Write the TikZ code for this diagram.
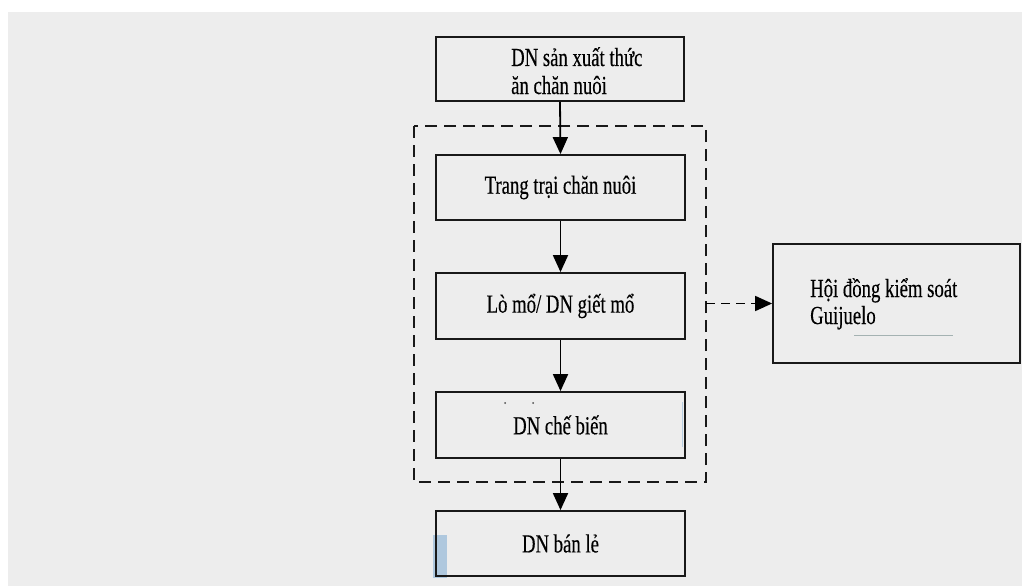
\documentclass[tikz,border=0pt]{standalone}
\usepackage{fontspec}
\setmainfont{Liberation Serif}[FakeStretch=0.72,FakeBold=0.3]
\usetikzlibrary{arrows.meta}
\definecolor{pagegray}{HTML}{EDEDED}
\definecolor{hiblue}{HTML}{A9C5DD}
\definecolor{rulegray}{HTML}{A4B2B2}
\tikzset{
  stage/.style={draw=black!90, line width=1.8pt, rectangle, inner sep=0pt,
    minimum width=249pt, font=\fontsize{26}{28}\selectfont},
  txt/.style={inner sep=0pt, font=\fontsize{26}{28}\selectfont},
  flow/.style={line width=1.8pt, -{Triangle[length=17pt,width=15pt]}},
  group/.style={draw=black!90, line width=1.8pt, dash pattern=on 12pt off 7pt},
}
\begin{document}
\begin{tikzpicture}[x=1pt,y=-1pt]
  % page
  \useasboundingbox (0,0) rectangle (1022,586);
  \fill[white] (0,0) rectangle (1022,586);
  \fill[pagegray] (8,12) rectangle (1022,586);

  % highlight mark behind the last box
  \fill[hiblue, opacity=0.9] (433,535) rectangle (447,578);

  % supplier box with left-set two-line caption
  \node[stage, minimum width=248pt, minimum height=64pt] (feed) at (560,69) {};
  \node[txt, anchor=base west] (feedA) at (511,66) {DN sản xuất thức};
  \node[txt, anchor=base west] (feedB) at (511,94) {ăn chăn nuôi};

  % chain stages
  \node[stage, minimum height=65pt] (farm) at (560.5,187.5) {Trang trại chăn nuôi};
  \node[stage, minimum height=66pt] (slaughter) at (560.5,306) {Lò mổ/ DN giết mổ};
  \node[stage, minimum height=66pt] (process) at (560.5,425) {DN chế biến};
  \node[stage, minimum height=65pt] (retail) at (560.5,543.5) {DN bán lẻ};
  \draw[hiblue, line width=1.5pt, opacity=0.8] (682.5,402) -- (682.5,447);

  % controlled group
  \draw[group] (414,126) rectangle (706,482);
  \coordinate (grpE) at (706,303.5);

  % control board
  \node[stage, minimum width=247pt, minimum height=119pt] (board) at (896.5,303.5) {};
  \node[txt, anchor=base west] (boardA) at (810,297) {Hội đồng kiểm soát};
  \node[txt, anchor=base west] (boardB) at (810,324) {Guijuelo};
  \draw[rulegray, line width=1pt] (854,335) -- (953,335);

  % connectors
  \draw[flow] (feed.south) -- (farm.north);
  \draw[flow] (farm.south) -- (slaughter.north);
  \draw[flow] (slaughter.south) -- (process.north);
  \draw[flow] (process.south) -- (retail.north);
  \draw[flow, dash pattern=on 9pt off 6pt] (grpE) -- (board.west);

  % small dots
  \fill[black!70] (505,403) circle (1pt) (533,403) circle (1pt);
\end{tikzpicture}
\end{document}
